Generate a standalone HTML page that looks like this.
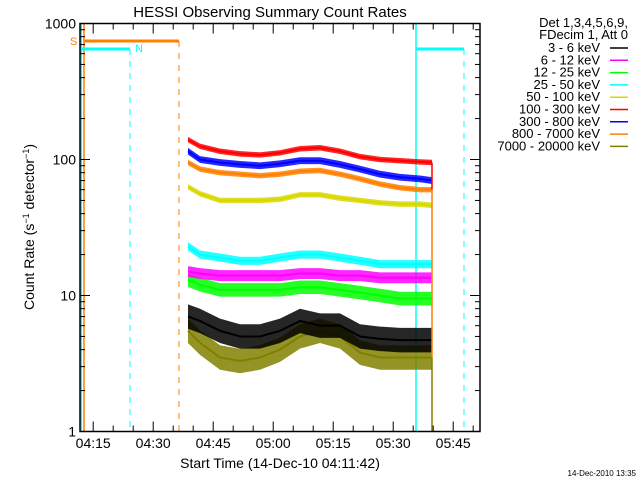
<!DOCTYPE html>
<html><head><meta charset="utf-8"><style>
body{margin:0;background:#fff}
svg{display:block;font-family:"Liberation Sans",sans-serif}
</style></head><body>
<svg id="c" width="640" height="480" viewBox="0 0 640 480">
<text x="270" y="17" font-size="15" text-anchor="middle">HESSI Observing Summary Count Rates</text>
<text transform="translate(34,227) rotate(-90)" font-size="14" text-anchor="middle">Count Rate (s<tspan baseline-shift="super" font-size="9">−1</tspan> detector<tspan baseline-shift="super" font-size="9">−1</tspan>)</text>
<text x="280" y="468" font-size="14" text-anchor="middle">Start Time (14-Dec-10 04:11:42)</text>
<text x="636" y="476" font-size="8" text-anchor="end">14-Dec-2010 13:35</text>
<g id="plot"></g><g id="axes"></g><g id="legend"></g>
</svg>
<script>
// minutes since 04:11:42
const times=[27,30,35,40,45,50,55,60,65,70,75,80,85,88];
const red=[140,125,115,110,108,112,120,122,115,105,100,98,96,95];
const blue=[115,100,95,92,90,93,98,98,92,85,78,74,72,70];
const orange=[95,85,80,78,76,78,82,83,78,72,66,62,60,60];
const yellow=[63,56,50,50,50,51,55,55,52,50,48,47,47,46];
const cyan=[23,20,19,18,18,19,20,20,19,18,17,17,17,17];
const magenta=[15,14.5,14,14,14,14,14.5,14.5,14,14,13.5,13.5,13.5,13.5];
const green=[13,12,11,11,11,11,11.5,11.5,11,10.5,10,9.5,9.5,9.5];
const black=[7,6.5,5.5,5,5,5.5,6.5,6,6,5,4.8,4.7,4.7,4.7];
const olive=[5.5,4.5,3.5,3.3,3.5,4,5,5.5,5,3.8,3.5,3.5,3.5,3.5];
const bandLog=[0.09,0.09,0.05,0.04,0.03,0.02,0.02,0.025,0.02];
const legendLabels=["3 - 6 keV","6 - 12 keV","12 - 25 keV","25 - 50 keV","50 - 100 keV","100 - 300 keV","300 - 800 keV","800 - 7000 keV","7000 - 20000 keV"];
const xTickLabels=["04:15","04:30","04:45","05:00","05:15","05:30","05:45"];
const xTickMinutes=[3.3,18.3,33.3,48.3,63.3,78.3,93.3];
const yTickValues=[1,10,100,1000];

const NS="http://www.w3.org/2000/svg";
const X0=80,X1=480,Y0=431.5,Y1=23.5;
const xs=m=>X0+(m/100)*(X1-X0);
const ys=v=>Y0-(Math.log10(v)/3)*(Y0-Y1);
function mk(t,a,p){const e=document.createElementNS(NS,t);for(const k in a)e.setAttribute(k,a[k]);(p||document.getElementById('plot')).appendChild(e);return e;}
const plot=document.getElementById('plot'),axes=document.getElementById('axes'),leg=document.getElementById('legend');

let e;
e=mk('line',{x1:81,y1:Y1,x2:81,y2:Y0,stroke:'#00ffff','stroke-width':2});

e=mk('line',{x1:84,y1:Y1,x2:84,y2:Y0,stroke:'#ff8000','stroke-width':1.5});

e=mk('line',{x1:84,y1:41,x2:179,y2:41,stroke:'#ff8000','stroke-width':3});

e=mk('line',{x1:179,y1:41,x2:179,y2:Y0,stroke:'#ff8000','stroke-dasharray':'6,6'});

e=mk('line',{x1:81,y1:49,x2:130,y2:49,stroke:'#00ffff','stroke-width':3});

e=mk('line',{x1:130,y1:49,x2:130,y2:Y0,stroke:'#00ffff','stroke-dasharray':'6,6'});

e=mk('line',{x1:416,y1:Y1,x2:416,y2:Y0,stroke:'#00ffff','stroke-width':1.5});

e=mk('line',{x1:416,y1:49,x2:464,y2:49,stroke:'#00ffff','stroke-width':3});

e=mk('line',{x1:464,y1:49,x2:464,y2:Y0,stroke:'#00ffff','stroke-dasharray':'6,6'});

e=mk('text',{x:70,y:45,fill:'#ff8000','font-size':11});e.textContent='S';

e=mk('text',{x:135,y:52,fill:'#00ffff','font-size':11});e.textContent='N';


const series=[olive,black,green,magenta,cyan,yellow,orange,blue,red];
const colors=['#808000','#000000','#00ff00','#ff00ff','#00ffff','#d8d800','#ff8000','#0000ff','#ff0000'];
const names=['olive','black','green','magenta','cyan','yellow','orange','blue','red'];
series.forEach((s,i)=>{
  const b=bandLog[i];
  let up=s.map((v,j)=>xs(times[j])+','+ys(v*Math.pow(10,b)));
  let dn=s.map((v,j)=>xs(times[j])+','+ys(v/Math.pow(10,b))).reverse();
  const band=mk('polygon',{points:up.concat(dn).join(' '),fill:colors[i],'fill-opacity':0.85});
  
  
  const ln=mk('polyline',{points:s.map((v,j)=>xs(times[j])+','+ys(v)).join(' '),fill:'none',stroke:colors[i],'stroke-width':2});
  
  
});
const tEnd=times[times.length-1];
e=mk('line',{x1:xs(tEnd),y1:ys(red[red.length-1]),x2:xs(tEnd),y2:ys(orange[orange.length-1]),stroke:'#ff0000','stroke-width':1.5});

e=mk('line',{x1:xs(tEnd),y1:ys(orange[orange.length-1]),x2:xs(tEnd),y2:ys(olive[olive.length-1]),stroke:'#ff8000','stroke-width':1.5});

e=mk('line',{x1:xs(tEnd),y1:ys(olive[olive.length-1]),x2:xs(tEnd),y2:Y0,stroke:'#808000','stroke-width':1.5});


e=mk('rect',{x:X0,y:Y1,width:X1-X0,height:Y0-Y1,fill:'none',stroke:'#000','stroke-width':1.5},axes);

for(let m=3.3;m<100;m+=5){
  const major=xTickMinutes.some(t=>Math.abs(t-m)<0.01);const L=major?10:6;
  e=mk('line',{x1:xs(m),y1:Y0,x2:xs(m),y2:Y0-L,stroke:'#000'},axes);
  
  e=mk('line',{x1:xs(m),y1:Y1,x2:xs(m),y2:Y1+L,stroke:'#000'},axes);
  
}
xTickLabels.forEach((t,i)=>{
  e=mk('text',{x:xs(xTickMinutes[i]),y:448,'font-size':14,'text-anchor':'middle'},axes);e.textContent=t;
  
});
for(let d=0;d<3;d++)for(let k=1;k<10;k++){
  const v=k*Math.pow(10,d);const L=k==1?10:5;
  e=mk('line',{x1:X0,y1:ys(v),x2:X0+L,y2:ys(v),stroke:'#000'},axes);
  
  e=mk('line',{x1:X1,y1:ys(v),x2:X1-L,y2:ys(v),stroke:'#000'},axes);
  
}
yTickValues.forEach(v=>{
  e=mk('text',{x:76,y:ys(v)+5,'font-size':14,'text-anchor':'end'},axes);e.textContent=String(v);
  
});
e=mk('text',{x:628,y:27,'font-size':13,'text-anchor':'end'},leg);e.textContent='Det 1,3,4,5,6,9,';

e=mk('text',{x:628,y:39,'font-size':13,'text-anchor':'end'},leg);e.textContent='FDecim 1, Att 0';

const legColors=['#000000','#ff00ff','#00ff00','#00ffff','#d8d800','#ff0000','#0000ff','#ff8000','#808000'];
legendLabels.forEach((t,i)=>{
  const y=52+i*12.3;
  e=mk('text',{x:600,y:y,'font-size':13,'text-anchor':'end'},leg);e.textContent=t;
  
  e=mk('line',{x1:610,y1:y-4,x2:628,y2:y-4,stroke:legColors[i],'stroke-width':1.5},leg);
  
});
</script>
</body></html>
